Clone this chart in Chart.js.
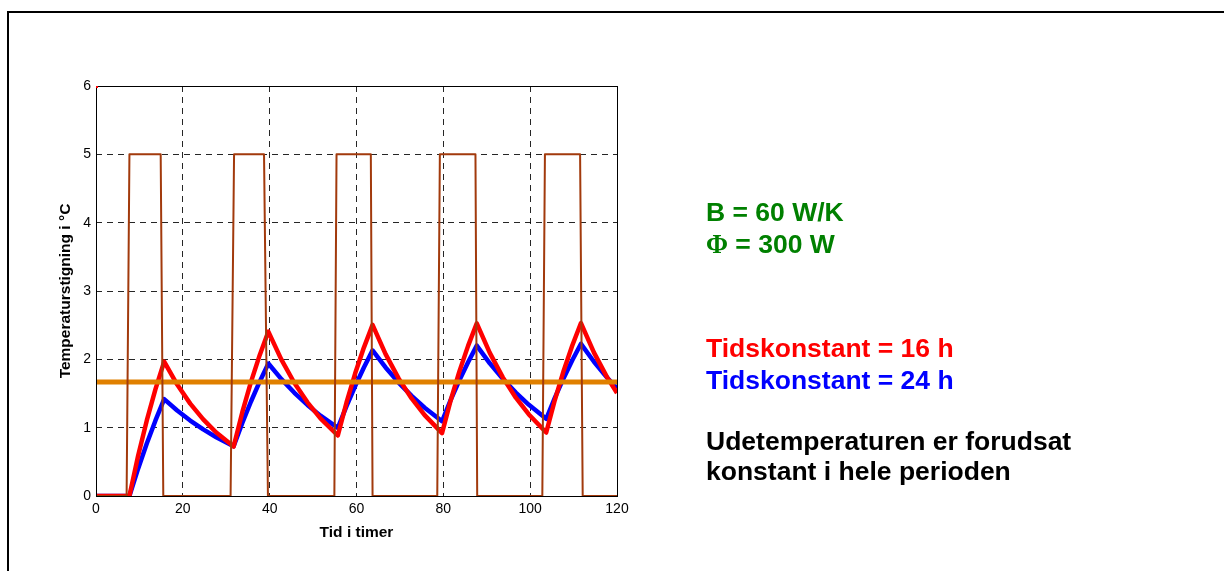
<!DOCTYPE html>
<html>
<head>
<meta charset="utf-8">
<script src="https://cdn.jsdelivr.net/npm/chart.js@4.4.1/dist/chart.umd.min.js"></script>
<style>
  html, body { margin: 0; padding: 0; background: #fff; overflow: hidden; }
  canvas { display: block; }
</style>
</head>
<body>
<canvas id="c" width="1224" height="571"></canvas>
<script>
// Time axis (hours) shared by the two room-temperature responses
const hours = [0, 7.7, 9.7, 11.7, 13.7, 15.7, 18.7, 21.7, 24.7, 27.7, 31.7,
  33.7, 35.7, 37.7, 39.7, 42.7, 45.7, 48.7, 51.7, 55.7,
  57.7, 59.7, 61.7, 63.7, 66.7, 69.7, 72.7, 75.7, 79.7,
  81.7, 83.7, 85.7, 87.7, 90.7, 93.7, 96.7, 99.7, 103.7,
  105.7, 107.7, 109.7, 111.7, 114.7, 117.7, 120];

// Temperature rise, time constant 16 h
const rise16 = [0, 0, 0.588, 1.106, 1.563, 1.967, 1.631, 1.352, 1.121, 0.929, 0.724,
  1.226, 1.670, 2.061, 2.406, 1.995, 1.654, 1.371, 1.137, 0.885,
  1.369, 1.795, 2.172, 2.504, 2.076, 1.721, 1.427, 1.183, 0.921,
  1.401, 1.824, 2.197, 2.526, 2.094, 1.736, 1.439, 1.193, 0.929,
  1.408, 1.830, 2.202, 2.531, 2.098, 1.740, 1.507];

// Temperature rise, time constant 24 h
const rise24 = [0, 0, 0.400, 0.768, 1.106, 1.418, 1.251, 1.104, 0.974, 0.860, 0.728,
  1.070, 1.383, 1.673, 1.939, 1.711, 1.510, 1.333, 1.176, 0.996,
  1.316, 1.610, 1.881, 2.131, 1.881, 1.660, 1.465, 1.292, 1.094,
  1.406, 1.694, 1.958, 2.201, 1.942, 1.714, 1.513, 1.335, 1.130,
  1.440, 1.724, 1.986, 2.227, 1.965, 1.734, 1.576];

// Heating on/off (stationary rise Φ/B = 5 °C while on)
const heatHours = [0, 7.05, 7.7, 14.9, 15.5, 31.0, 31.8, 38.7, 39.6, 54.9, 55.4, 63.3, 63.7,
  78.6, 79.2, 87.4, 87.8, 102.8, 103.4, 111.5, 112.1, 120];
const heatRise = [0, 0, 5, 5, 0, 0, 5, 5, 0, 0, 5, 5, 0,
  0, 5, 5, 0, 0, 5, 5, 0, 0];

// Mean temperature rise over the period
const meanHours = [0, 120];
const meanRise = [1.667, 1.667];

const xTicks = [0, 20, 40, 60, 80, 100, 120];
const yTicks = [0, 1, 2, 3, 4, 5, 6];

const xy = (xs, ys) => xs.map((x, i) => ({ x: x, y: ys[i] }));

const sideNotes = {
  id: 'sideNotes',
  beforeDraw(chart) {
    const ctx = chart.ctx;
    ctx.save();
    ctx.fillStyle = '#fff';
    ctx.fillRect(0, 0, chart.width, chart.height);
    // outer frame
    ctx.fillStyle = '#000';
    ctx.fillRect(7, 11, chart.width - 7, 2);
    ctx.fillRect(7, 11, 2, chart.height - 11);
    ctx.restore();
  },
  afterDatasetsDraw(chart) {
    const ctx = chart.ctx;
    const a = chart.chartArea;
    ctx.save();
    ctx.strokeStyle = '#000';
    ctx.lineWidth = 1;
    ctx.setLineDash([]);
    ctx.strokeRect(Math.round(a.left) + 0.5, Math.round(a.top) + 0.5,
      Math.round(a.right - a.left), Math.round(a.bottom - a.top));
    // small red mark at the upper-left corner of the axes
    ctx.fillStyle = '#ff0000';
    ctx.fillRect(Math.round(a.left), Math.round(a.top), 2, 2);
    ctx.restore();
  },
  afterDraw(chart) {
    const ctx = chart.ctx;
    ctx.save();
    ctx.textBaseline = 'alphabetic';
    ctx.textAlign = 'left';
    const sans = 'bold 26.5px "Liberation Sans", Arial, sans-serif';
    const x0 = 706;
    ctx.font = sans;
    ctx.fillStyle = '#008000';
    ctx.fillText('B = 60 W/K', x0, 221);
    ctx.font = 'bold 26.5px "Liberation Serif", "Times New Roman", serif';
    ctx.fillText('Φ', x0, 253);
    const phiW = ctx.measureText('Φ').width;
    ctx.font = sans;
    ctx.fillText(' = 300 W', x0 + phiW, 253);
    ctx.fillStyle = '#ff0000';
    ctx.fillText('Tidskonstant = 16 h', x0, 357);
    ctx.fillStyle = '#0000ff';
    ctx.fillText('Tidskonstant = 24 h', x0, 388.5);
    ctx.fillStyle = '#000';
    ctx.fillText('Udetemperaturen er forudsat', x0, 449.5);
    ctx.fillText('konstant i hele perioden', x0, 480);
    ctx.restore();
  }
};

const tickFont = { family: '"Liberation Sans", Arial, sans-serif', size: 14 };
const titleFont = { family: '"Liberation Sans", Arial, sans-serif', size: 15.5, weight: 'bold' };

new Chart(document.getElementById('c'), {
  type: 'line',
  data: {
    datasets: [
      { label: 'Varme', data: xy(heatHours, heatRise), borderColor: '#a23a0c', borderWidth: 2, order: 0 },
      { label: 'Middel', data: xy(meanHours, meanRise), borderColor: '#e08000', borderWidth: 5, order: 1 },
      { label: 'Tidskonstant = 16 h', data: xy(hours, rise16), borderColor: '#ff0000', borderWidth: 4.5, order: 2 },
      { label: 'Tidskonstant = 24 h', data: xy(hours, rise24), borderColor: '#0000ff', borderWidth: 4.5, order: 3 }
    ]
  },
  options: {
    responsive: false,
    animation: false,
    devicePixelRatio: 1,
    layout: { padding: { left: 0, top: 86, right: 607, bottom: 0 } },
    elements: {
      point: { radius: 0, hoverRadius: 0 },
      line: { tension: 0, fill: false, borderJoinStyle: 'round', borderCapStyle: 'butt' }
    },
    plugins: { legend: { display: false }, tooltip: { enabled: false } },
    scales: {
      x: {
        type: 'linear', min: 0, max: 120,
        afterBuildTicks: s => { s.ticks = xTicks.map(v => ({ value: v })); },
        afterFit: s => { s.height = 75; },
        ticks: { font: tickFont, color: '#000', padding: 5, maxRotation: 0 },
        grid: { color: 'rgba(0,0,0,0.85)', lineWidth: 1, drawTicks: false },
        border: { display: false, dash: [6, 5] },
        title: { display: true, text: 'Tid i timer', font: titleFont, color: '#000', padding: { top: 0, bottom: 28.7 } }
      },
      y: {
        type: 'linear', min: 0, max: 6,
        afterBuildTicks: s => { s.ticks = yTicks.map(v => ({ value: v })); },
        afterFit: s => { s.width = 96; },
        ticks: { font: tickFont, color: '#000', padding: 5 },
        grid: { color: 'rgba(0,0,0,0.85)', lineWidth: 1, drawTicks: false },
        border: { display: false, dash: [6, 5] },
        title: { display: true, text: 'Temperaturstigning i °C', font: titleFont, color: '#000', padding: { top: 56.7, bottom: 0 } }
      }
    }
  },
  plugins: [sideNotes]
});
</script>
</body>
</html>
